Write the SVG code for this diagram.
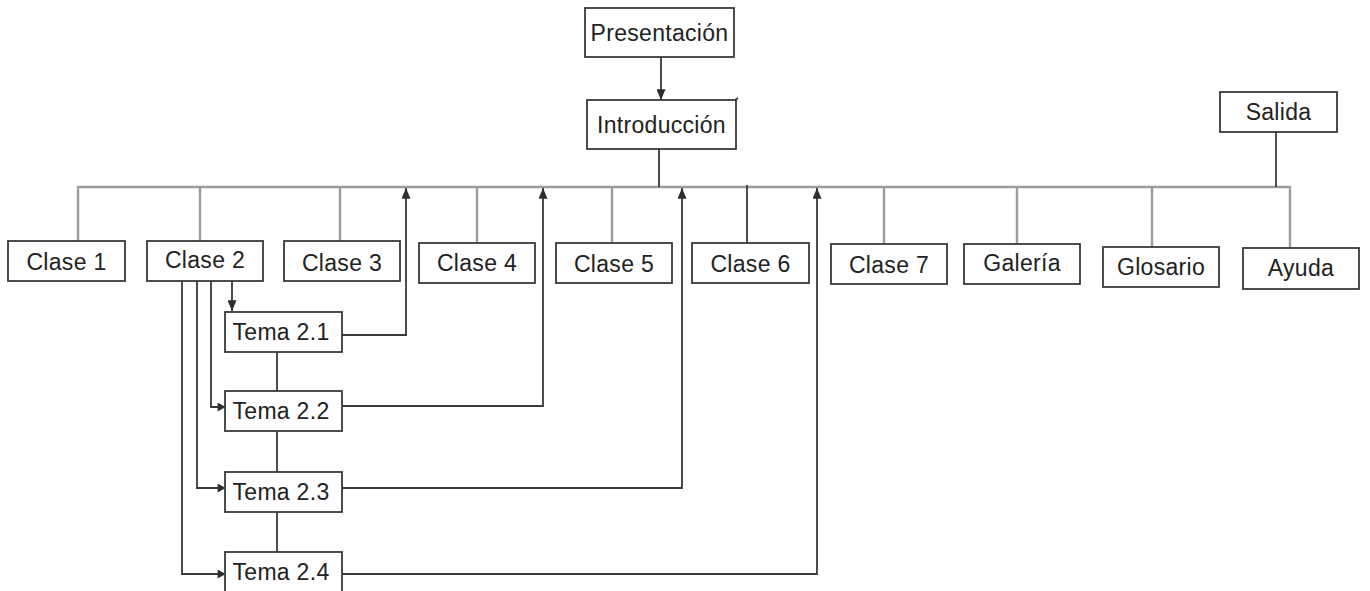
<svg xmlns="http://www.w3.org/2000/svg" width="1370" height="591" viewBox="0 0 1370 591">
  <style>
    .box rect { fill: #ffffff; stroke: #3a3a3a; stroke-width: 1.8; }
    .box text { font-family: "Liberation Sans", Arial, sans-serif; font-size: 23px; letter-spacing: 0.3px; fill: #222222; text-anchor: middle; }
    .bus { fill: none; stroke: #9c9c9c; stroke-width: 2.4; }
    .link { fill: none; stroke: #3a3a3a; stroke-width: 1.8; }
  </style>
  <defs>
    <marker id="arrow-tall" viewBox="0 0 12 10" refX="12" refY="5" markerWidth="12" markerHeight="9" markerUnits="userSpaceOnUse" orient="auto">
      <path d="M0,0 L12,5 L0,10 z" fill="#2e2e2e"/>
    </marker>
    <!-- arrowhead sitting a few pixels before the line end, leaving a short stub -->
    <marker id="arrow-stub" viewBox="0 0 16 10" refX="16" refY="5" markerWidth="16" markerHeight="9" markerUnits="userSpaceOnUse" orient="auto">
      <path d="M0,0 L9,5 L0,10 z" fill="#2e2e2e"/>
    </marker>
  </defs>

  <rect width="1370" height="591" fill="#ffffff"/>

  <g id="connectors">
    <!-- main horizontal bus with drops to each section -->
    <path class="bus" d="M78,241 V187 H1290 V248"/>
    <path class="bus" d="M200,187 V241 M340,187 V241 M477,187 V243 M612,187 V243 M884,187 V244 M1017,187 V244 M1152,187 V247"/>
    <path class="link" d="M747,185 V243"/>

    <!-- top chain -->
    <path class="link" d="M661,57 V100" marker-end="url(#arrow-tall)"/>
    <path class="link" d="M659,149 V187"/>
    <path class="link" d="M1276,132 V187"/>
    <path class="link" d="M735,100 L738,98"/>

    <!-- Clase 2 to its topics -->
    <path class="link" d="M232,281 V311" marker-end="url(#arrow-tall)"/>
    <path class="link" d="M211,281 V407 H232" marker-end="url(#arrow-stub)"/>
    <path class="link" d="M197,281 V488 H232" marker-end="url(#arrow-stub)"/>
    <path class="link" d="M182,281 V574 H232" marker-end="url(#arrow-stub)"/>

    <!-- chain between topics -->
    <path class="link" d="M277,352 V391 M277,431 V472 M277,512 V552"/>

    <!-- topics back up to the bus -->
    <path class="link" d="M342,335 H406 V188" marker-end="url(#arrow-tall)"/>
    <path class="link" d="M342,406 H543 V188" marker-end="url(#arrow-tall)"/>
    <path class="link" d="M342,488 H682 V188" marker-end="url(#arrow-tall)"/>
    <path class="link" d="M342,574 H817 V188" marker-end="url(#arrow-tall)"/>
  </g>

  <g id="presentacion" class="box"><rect x="585" y="8" width="149" height="49"/><text x="659.5" y="41">Presentación</text></g>
  <g id="introduccion" class="box"><rect x="587" y="100" width="149" height="49"/><text x="661.5" y="133">Introducción</text></g>
  <g id="salida" class="box"><rect x="1220" y="92" width="117" height="40"/><text x="1278.5" y="120">Salida</text></g>

  <g id="clase1" class="box"><rect x="8" y="241" width="117" height="40"/><text x="66.5" y="270">Clase 1</text></g>
  <g id="clase2" class="box"><rect x="147" y="241" width="116" height="40"/><text x="205" y="268">Clase 2</text></g>
  <g id="clase3" class="box"><rect x="284" y="241" width="116" height="40"/><text x="342" y="271">Clase 3</text></g>
  <g id="clase4" class="box"><rect x="419" y="243" width="116" height="40"/><text x="477" y="271">Clase 4</text></g>
  <g id="clase5" class="box"><rect x="556" y="243" width="116" height="40"/><text x="614" y="272">Clase 5</text></g>
  <g id="clase6" class="box"><rect x="692" y="243" width="117" height="40"/><text x="750.5" y="272">Clase 6</text></g>
  <g id="clase7" class="box"><rect x="831" y="244" width="116" height="40"/><text x="889" y="273">Clase 7</text></g>
  <g id="galeria" class="box"><rect x="964" y="244" width="116" height="40"/><text x="1022" y="271">Galería</text></g>
  <g id="glosario" class="box"><rect x="1103" y="247" width="116" height="40"/><text x="1161" y="275">Glosario</text></g>
  <g id="ayuda" class="box"><rect x="1243" y="248" width="116" height="41"/><text x="1301" y="276">Ayuda</text></g>

  <g id="tema21" class="box"><rect x="225" y="312" width="117" height="40"/><text x="281" y="340">Tema 2.1</text></g>
  <g id="tema22" class="box"><rect x="225" y="391" width="117" height="40"/><text x="281" y="419">Tema 2.2</text></g>
  <g id="tema23" class="box"><rect x="225" y="472" width="117" height="40"/><text x="281" y="500">Tema 2.3</text></g>
  <g id="tema24" class="box"><rect x="225" y="552" width="117" height="40"/><text x="281" y="580">Tema 2.4</text></g>
</svg>
